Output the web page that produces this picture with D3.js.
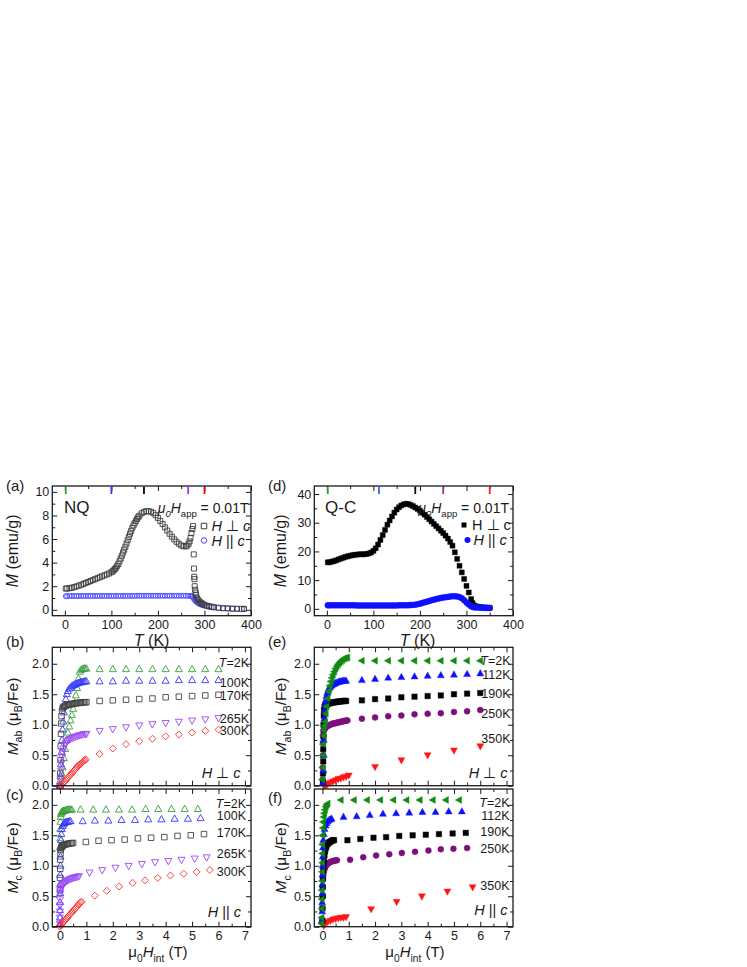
<!DOCTYPE html>
<html><head><meta charset="utf-8">
<script src="https://cdn.jsdelivr.net/npm/d3@7"></script>
<style>body{margin:0;background:#fff;} svg text{font-family:"Liberation Sans",Arial,Helvetica,sans-serif;white-space:pre;}</style>
</head><body><svg id="chart" width="747" height="967"></svg>
<script>
// ---------------- DATA ----------------
// (a) NQ, M(T) at 0.01 T
const nqPerpT = [2,5,10,15,20,25,30,35,40,45,50,55,60,65,70,75,80,85,90,95,100,102.5,105,107.5,110,112.5,115,117.5,120,122.5,125,127.5,130,132.5,135,137.5,140,142.5,145,147.5,150,152.5,155,157.5,160,165,170,175,180,185,190,195,200,205,210,215,220,225,230,235,240,245,250,255,260,263,266,268,270,272,274,275.5,277,277.5,278,278.5,279,280,281,282,283,285,287,290,293,296,300,305,310,315,320,330,340,350,360,370,380,385];
const nqPerpM = [1.80,1.81,1.83,1.87,1.92,1.98,2.05,2.12,2.20,2.28,2.36,2.44,2.52,2.60,2.68,2.76,2.84,2.92,3.00,3.08,3.18,3.26,3.35,3.46,3.58,3.73,3.90,4.12,4.35,4.60,4.85,5.10,5.35,5.62,5.90,6.18,6.45,6.70,6.95,7.16,7.35,7.53,7.70,7.85,7.98,8.18,8.30,8.36,8.37,8.32,8.20,8.02,7.80,7.54,7.27,6.99,6.72,6.45,6.20,5.97,5.77,5.60,5.46,5.39,5.38,5.45,5.6,5.8,6.1,6.5,6.85,7.1,4.7,3.5,2.8,2.6,2.0,1.7,1.45,1.25,1.05,0.9,0.8,0.68,0.58,0.5,0.42,0.35,0.3,0.26,0.22,0.17,0.14,0.12,0.1,0.09,0.08,0.08];
const nqParT = [2,5,10,15,20,25,30,35,40,45,50,55,60,65,70,75,80,85,90,95,100,105,110,115,120,125,130,135,140,145,150,155,160,165,170,175,180,185,190,195,200,205,210,215,220,225,230,235,240,245,250,255,260,265,270,272,274,276,278,280,282,285,288,292,296,300,305,310,320,330,340,350,360,370,385];
const nqParM = [1.15,1.16,1.17,1.17,1.17,1.17,1.17,1.18,1.18,1.18,1.18,1.18,1.18,1.18,1.18,1.18,1.18,1.18,1.18,1.18,1.18,1.18,1.18,1.18,1.18,1.18,1.18,1.18,1.18,1.18,1.18,1.19,1.19,1.19,1.19,1.19,1.19,1.19,1.19,1.19,1.19,1.19,1.19,1.19,1.19,1.19,1.19,1.19,1.19,1.19,1.19,1.19,1.19,1.18,1.17,1.17,1.12,1.02,0.9,0.8,0.7,0.6,0.52,0.45,0.4,0.36,0.31,0.27,0.2,0.16,0.13,0.11,0.09,0.08,0.07];
const nqMarkT = [2,100,170,265,300];
// (d) Q-C, M(T) at 0.01 T
const qcT = [2,5,10,15,20,25,30,35,40,45,50,55,60,65,70,75,80,85,90,95,100,105,110,115,120,125,130,135,140,145,150,155,160,165,170,175,180,185,190,195,200,205,210,215,220,225,230,235,240,245,250,255,260,265,270,275,280,285,290,295,300,305,310,313,316,320,325,330,335,340,345,350];
const qcPerpM = [16.2,16.2,16.4,16.6,16.9,17.2,17.5,17.8,18.1,18.3,18.5,18.7,18.8,18.9,19.0,19.0,19.0,19.1,19.3,19.6,20.2,21.1,22.4,24.0,25.7,27.5,29.3,30.8,32.2,33.5,34.6,35.4,36.0,36.4,36.6,36.5,36.2,35.8,35.3,34.8,34.2,33.5,32.8,32.0,31.2,30.4,29.6,28.8,28.0,27.2,26.4,25.5,24.5,23.3,22.0,19.7,17.4,15.0,12.7,10.4,8.0,5.7,3.4,2.0,1.2,0.9,0.7,0.6,0.5,0.45,0.4,0.35];
const qcParM = [1.2,1.2,1.2,1.2,1.2,1.2,1.2,1.2,1.2,1.2,1.2,1.2,1.2,1.15,1.15,1.15,1.15,1.15,1.15,1.15,1.15,1.15,1.15,1.15,1.15,1.15,1.15,1.15,1.15,1.15,1.15,1.2,1.2,1.2,1.2,1.25,1.3,1.35,1.45,1.6,1.8,2.0,2.25,2.5,2.75,3.0,3.2,3.4,3.6,3.75,3.9,4.05,4.15,4.25,4.35,4.38,4.3,4.1,3.7,3.0,2.2,1.5,0.9,0.7,0.55,0.5,0.45,0.4,0.36,0.33,0.3,0.28];
const qcMarkT = [2,112,190,250,350];

// (b) NQ, H perp c : M_ab vs mu0 H_int
const b2K_H = [0,0.03,0.06,0.1,0.15,0.2,0.25,0.3,0.35,0.4,0.45,0.5,0.55,0.6,0.65,0.7,0.75,0.8,0.85,0.9,0.95,1.0,1.5,2.0,2.5,3.0,3.5,4.0,4.5,5.0,5.5,6.0];
const b2K_M = [0,0.1,0.2,0.3,0.45,0.6,0.75,0.87,0.97,1.07,1.16,1.26,1.36,1.48,1.6,1.76,1.87,1.9,1.91,1.92,1.92,1.92,1.91,1.91,1.91,1.91,1.91,1.91,1.91,1.91,1.91,1.91];
const b100K_H = [0,0.02,0.04,0.06,0.08,0.1,0.12,0.15,0.18,0.22,0.26,0.3,0.35,0.4,0.45,0.5,0.55,0.6,0.65,0.7,0.75,0.8,0.85,0.9,0.95,1.0,1.5,2.0,2.5,3.0,3.5,4.0,4.5,5.0,5.5,6.0];
const b100K_M = [0,0.15,0.35,0.55,0.75,0.92,1.05,1.2,1.32,1.42,1.5,1.55,1.59,1.61,1.63,1.645,1.655,1.665,1.675,1.685,1.69,1.695,1.70,1.705,1.71,1.71,1.71,1.71,1.72,1.72,1.72,1.72,1.73,1.73,1.73,1.73];
const b170K_H = [0,0.01,0.02,0.03,0.04,0.05,0.06,0.08,0.1,0.13,0.16,0.2,0.25,0.3,0.35,0.4,0.45,0.5,0.55,0.6,0.65,0.7,0.75,0.8,0.85,0.9,0.95,1.0,1.5,2.0,2.5,3.0,3.5,4.0,4.5,5.0,5.5,6.0];
const b170K_M = [0,0.2,0.42,0.65,0.85,1.02,1.14,1.23,1.27,1.29,1.3,1.31,1.32,1.325,1.33,1.335,1.34,1.345,1.35,1.352,1.355,1.358,1.36,1.362,1.365,1.367,1.37,1.37,1.39,1.40,1.41,1.42,1.43,1.45,1.46,1.47,1.48,1.49];
const b265K_H = [0,0.02,0.04,0.06,0.08,0.1,0.13,0.17,0.22,0.27,0.33,0.4,0.47,0.54,0.61,0.68,0.75,0.82,0.89,0.96,1.0,1.5,2.0,2.5,3.0,3.5,4.0,4.5,5.0,5.5,6.0];
const b265K_M = [0,0.12,0.25,0.38,0.48,0.55,0.61,0.66,0.7,0.73,0.75,0.77,0.785,0.8,0.81,0.82,0.83,0.835,0.845,0.85,0.85,0.9,0.93,0.96,0.99,1.01,1.03,1.05,1.07,1.09,1.11];
const b300K_H = [0.03,0.06,0.1,0.14,0.18,0.22,0.26,0.3,0.34,0.38,0.42,0.46,0.5,0.54,0.58,0.62,0.66,0.7,0.74,0.78,0.82,0.86,0.9,0.94,0.98,1.5,2.0,2.5,3.0,3.5,4.0,4.5,5.0,5.5,6.0];
const b300K_M = [0,0.01,0.03,0.05,0.07,0.09,0.11,0.13,0.15,0.17,0.19,0.21,0.23,0.25,0.27,0.29,0.31,0.33,0.345,0.36,0.375,0.39,0.405,0.42,0.43,0.52,0.61,0.68,0.73,0.77,0.81,0.84,0.87,0.90,0.92];

// (c) NQ, H || c : M_c vs mu0 H_int
const c2K_H = [0,0.01,0.01,0.02,0.03,0.04,0.05,0.07,0.1,0.13,0.17,0.21,0.25,0.3,0.35,0.4,0.45,0.78,1.26,1.74,2.23,2.73,3.24,3.72,4.22,4.72,5.22];
const c2K_M = [1.3,1.45,1.6,1.72,1.8,1.85,1.87,1.88,1.89,1.9,1.9,1.91,1.91,1.92,1.92,1.92,1.92,1.92,1.92,1.92,1.92,1.92,1.93,1.93,1.93,1.93,1.93];
const c100K_H = [0,0,0,0,0.01,0.01,0.01,0.02,0.02,0.03,0.04,0.05,0.07,0.1,0.13,0.17,0.21,0.25,0.3,0.35,0.4,0.86,1.32,1.83,2.33,2.84,3.34,3.84,4.34,4.84,5.32];
const c100K_M = [0.05,0.15,0.27,0.4,0.55,0.7,0.85,1.0,1.15,1.3,1.42,1.52,1.6,1.65,1.68,1.7,1.71,1.72,1.72,1.73,1.73,1.73,1.74,1.74,1.75,1.75,1.76,1.76,1.77,1.77,1.78];
const c170K_H = [0,0,0.01,0.01,0.02,0.03,0.04,0.06,0.08,0.1,0.13,0.16,0.2,0.25,0.3,0.35,0.4,0.45,0.5,0.98,1.46,1.95,2.45,2.95,3.45,3.95,4.45,4.95,5.45];
const c170K_M = [0.6,0.8,0.95,1.1,1.2,1.26,1.29,1.31,1.32,1.33,1.34,1.345,1.35,1.355,1.36,1.365,1.37,1.37,1.375,1.39,1.41,1.42,1.43,1.45,1.46,1.47,1.49,1.5,1.52];
const c265K_H = [0,0,0,0,0,0.01,0.02,0.04,0.06,0.09,0.12,0.16,0.2,0.25,0.3,0.36,0.42,0.48,0.54,0.6,0.66,0.72,1.12,1.6,2.1,2.6,3.1,3.6,4.1,4.6,5.1,5.55];
const c265K_M = [0.05,0.15,0.25,0.35,0.45,0.55,0.6,0.63,0.66,0.68,0.7,0.72,0.735,0.75,0.765,0.78,0.79,0.8,0.81,0.815,0.82,0.83,0.89,0.93,0.97,1.0,1.03,1.06,1.08,1.1,1.12,1.14];
const c300K_H = [0,0.03,0.06,0.1,0.14,0.18,0.22,0.26,0.3,0.34,0.38,0.42,0.46,0.5,0.54,0.58,0.62,0.66,0.7,0.74,0.78,0.82,1.32,1.77,2.24,2.75,3.22,3.7,4.18,4.68,5.17,5.67];
const c300K_M = [0,0.02,0.04,0.06,0.08,0.1,0.12,0.14,0.16,0.18,0.2,0.22,0.24,0.26,0.28,0.3,0.32,0.34,0.36,0.38,0.4,0.41,0.51,0.59,0.66,0.72,0.76,0.8,0.84,0.87,0.9,0.93];

// (e) Q-C, H perp c
const e2K_H = [0,0.01,0.02,0.03,0.04,0.05,0.07,0.1,0.13,0.16,0.2,0.24,0.28,0.32,0.36,0.4,0.45,0.5,0.55,0.6,0.65,0.7,0.75,0.8,0.85,0.9,0.95,1.5,2.0,2.5,3.0,3.5,4.0,4.5,5.0,5.5,6.0];
const e2K_M = [0.1,0.3,0.5,0.68,0.82,0.92,0.98,1.05,1.18,1.3,1.43,1.55,1.64,1.71,1.77,1.82,1.87,1.92,1.96,1.99,2.02,2.04,2.06,2.08,2.09,2.1,2.1,2.05,2.05,2.05,2.05,2.05,2.05,2.05,2.05,2.05,2.05];
const e112K_H = [0.03,0.04,0.05,0.05,0.06,0.07,0.08,0.1,0.12,0.15,0.18,0.22,0.26,0.3,0.35,0.4,0.45,0.5,0.55,0.6,0.65,0.7,0.75,0.8,0.85,0.9,1.5,2.0,2.5,3.0,3.5,4.0,4.5,5.0,5.5,6.0];
const e112K_M = [0.05,0.25,0.5,0.75,0.95,1.1,1.22,1.32,1.4,1.47,1.52,1.57,1.6,1.62,1.64,1.66,1.67,1.68,1.69,1.7,1.705,1.71,1.715,1.72,1.72,1.72,1.73,1.75,1.77,1.78,1.79,1.8,1.81,1.82,1.83,1.84];
const e190K_H = [0.02,0.02,0.03,0.03,0.04,0.04,0.05,0.06,0.08,0.1,0.13,0.16,0.2,0.25,0.3,0.35,0.4,0.45,0.5,0.55,0.6,0.65,0.7,0.75,0.8,0.85,0.9,1.5,2.0,2.5,3.0,3.5,4.0,4.5,5.0,5.5,6.0];
const e190K_M = [0.05,0.2,0.4,0.6,0.8,1.0,1.15,1.24,1.29,1.31,1.32,1.33,1.34,1.35,1.355,1.36,1.365,1.37,1.37,1.375,1.38,1.38,1.385,1.385,1.39,1.39,1.39,1.40,1.42,1.43,1.45,1.46,1.47,1.48,1.5,1.51,1.52];
const e250K_H = [0.01,0.01,0.02,0.02,0.03,0.04,0.06,0.08,0.1,0.13,0.16,0.2,0.25,0.3,0.35,0.4,0.45,0.5,0.55,0.6,0.65,0.7,0.75,0.8,0.85,0.9,0.95,1.5,2.0,2.5,3.0,3.5,4.0,4.5,5.0,5.5,6.0];
const e250K_M = [0.1,0.3,0.5,0.7,0.82,0.88,0.91,0.93,0.95,0.96,0.97,0.98,0.99,1.0,1.01,1.02,1.02,1.03,1.03,1.04,1.04,1.05,1.05,1.06,1.06,1.07,1.07,1.1,1.12,1.14,1.15,1.17,1.18,1.19,1.21,1.22,1.24];
const e350K_H = [0.05,0.1,0.15,0.2,0.3,0.4,0.5,0.6,0.7,0.8,0.9,1.0,2.0,3.0,4.0,5.0,6.0];
const e350K_M = [0.0,0.01,0.02,0.03,0.05,0.07,0.09,0.11,0.12,0.14,0.15,0.17,0.31,0.42,0.5,0.58,0.65];

// (f) Q-C, H || c
const f2K_H = [-0.03,-0.03,-0.02,-0.02,-0.02,-0.01,-0.01,0,0,0,0.01,0.02,0.03,0.05,0.07,0.1,0.13,0.16,0.2,0.7,1.2,1.7,2.2,2.7,3.2,3.7,4.2,4.7,5.2];
const f2K_M = [0.05,0.15,0.3,0.45,0.6,0.75,0.9,1.05,1.2,1.35,1.5,1.62,1.72,1.8,1.86,1.92,1.97,2.0,2.02,2.08,2.08,2.08,2.08,2.08,2.08,2.08,2.08,2.08,2.08];
const f112K_H = [-0.02,-0.01,-0.01,0,0,0,0.01,0.01,0.02,0.03,0.05,0.08,0.12,0.16,0.2,0.25,0.3,0.35,0.8,1.3,1.8,2.3,2.8,3.3,3.8,4.3,4.8,5.3];
const f112K_M = [0.1,0.25,0.4,0.55,0.7,0.85,1.0,1.15,1.3,1.42,1.52,1.6,1.66,1.7,1.73,1.75,1.76,1.77,1.8,1.81,1.83,1.85,1.86,1.87,1.88,1.88,1.89,1.89];
const f190K_H = [0,0,0.01,0.01,0.02,0.03,0.04,0.06,0.08,0.1,0.13,0.16,0.2,0.24,0.28,0.32,0.36,0.4,0.44,0.95,1.44,1.94,2.42,2.92,3.43,3.93,4.43,4.95,5.45];
const f190K_M = [0.1,0.3,0.5,0.65,0.8,0.92,1.02,1.1,1.18,1.24,1.29,1.33,1.36,1.38,1.39,1.4,1.41,1.42,1.42,1.42,1.44,1.46,1.47,1.49,1.5,1.51,1.52,1.53,1.54];
const f250K_H = [0,0,0.01,0.01,0.02,0.03,0.05,0.07,0.1,0.13,0.17,0.21,0.25,0.3,0.35,0.4,0.45,0.5,0.55,1.05,1.55,2.04,2.54,3.02,3.52,4.03,4.5,4.98,5.5];
const f250K_M = [0.1,0.3,0.5,0.65,0.77,0.85,0.9,0.94,0.97,1.0,1.02,1.04,1.05,1.06,1.07,1.08,1.08,1.09,1.09,1.1,1.14,1.17,1.19,1.21,1.23,1.25,1.27,1.28,1.29];
const f350K_H = [0.05,0.1,0.2,0.3,0.4,0.5,0.6,0.7,0.8,0.9,1.85,2.82,3.78,4.75,5.71];
const f350K_M = [0.02,0.05,0.08,0.1,0.12,0.13,0.14,0.15,0.15,0.16,0.29,0.41,0.5,0.58,0.65];

// tick values
const tTicks = [0,100,200,300,400];
const tMinor = [50,150,250,350];
const nqMTicks = [0,2,4,6,8,10];
const nqMMinor = [1,3,5,7,9];
const qcMTicks = [0,10,20,30,40];
const qcMMinor = [5,15,25,35];
const hTicks = [0,1,2,3,4,5,6,7];
const hMinor = [0.5,1.5,2.5,3.5,4.5,5.5,6.5];
const mTicks = [0,0.5,1.0,1.5,2.0];
const mMinor = [0.25,0.75,1.25,1.75];
const nqLabels = ["T=2K","100K","170K","265K","300K"];
const qcLabels = ["T=2K","112K","190K","250K","350K"];

// ---------------- DRAWING ----------------
const svg = d3.select("#chart");
const INK = "#1a1a1a";

function rich(parent, x, y, parts, size, anchor, rot) {
  const t = parent.append("text").attr("font-size", size).attr("text-anchor", anchor || "start").attr("fill", INK);
  if (rot) t.attr("transform", `translate(${x},${y}) rotate(-90)`); else t.attr("x", x).attr("y", y);
  let shift = 0;
  parts.forEach(p => {
    const ts = t.append("tspan").text(p.t);
    const target = p.sub ? size * 0.3 : 0;
    if (target !== shift) { ts.attr("dy", target - shift); shift = target; }
    if (p.sub) ts.attr("font-size", size * 0.68);
    if (p.i) ts.attr("font-style", "italic");
  });
  return t;
}

function panel(o) {
  const x = d3.scaleLinear().domain(o.xd).range([o.l, o.r]);
  const y = d3.scaleLinear().domain(o.yd).range([o.b, o.t]);
  const g = svg.append("g");
  const ax = (fn, sc, vals, size, fmt, tr, pad) => {
    const a = fn(sc).tickValues(vals).tickSize(-size).tickPadding(pad || 4).tickFormat(fmt || (() => ""));
    const gg = g.append("g").attr("transform", tr).call(a);
    gg.select(".domain").remove();
    gg.selectAll("line").attr("stroke", INK).attr("stroke-width", 1);
    gg.selectAll("text").attr("font-size", 12.5).attr("fill", INK).attr("font-family", null);
    return gg;
  };
  ax(d3.axisBottom, x, o.xMajor, 5, o.xFmt, `translate(0,${o.b})`, 4);
  ax(d3.axisBottom, x, o.xMinor, 3, null, `translate(0,${o.b})`);
  ax(d3.axisTop, x, o.xMajor, 5, null, `translate(0,${o.t})`);
  ax(d3.axisTop, x, o.xMinor, 3, null, `translate(0,${o.t})`);
  ax(d3.axisLeft, y, o.yMajor, 5, o.yFmt, `translate(${o.l},0)`, 3);
  ax(d3.axisLeft, y, o.yMinor, 3, null, `translate(${o.l},0)`);
  ax(d3.axisRight, y, o.yMajor, 5, null, `translate(${o.r},0)`);
  ax(d3.axisRight, y, o.yMinor, 3, null, `translate(${o.r},0)`);
  const data = g.append("g");
  g.append("rect").attr("x", o.l).attr("y", o.t).attr("width", o.r - o.l).attr("height", o.b - o.t)
    .attr("fill", "none").attr("stroke", INK).attr("stroke-width", 1.3);
  const over = g.append("g");
  return { x, y, g, data, over, o };
}

function sym(type, s) {
  const h = s * 0.9;
  switch (type) {
    case "sq": return `M${-s/2},${-s/2}h${s}v${s}h${-s}Z`;
    case "ci": { const r = s / 2; return `M${r},0A${r},${r} 0 1,1 ${-r},0A${r},${r} 0 1,1 ${r},0Z`; }
    case "tu": return `M0,${-h*0.62}L${s/2},${h*0.38}L${-s/2},${h*0.38}Z`;
    case "td": return `M0,${h*0.62}L${s/2},${-h*0.38}L${-s/2},${-h*0.38}Z`;
    case "tl": return `M${-h*0.62},0L${h*0.38},${-s/2}L${h*0.38},${s/2}Z`;
    case "di": return `M0,${-s/2}L${s/2},0L0,${s/2}L${-s/2},0Z`;
  }
}
function series(p, X, Y, type, size, color, filled) {
  p.data.append("g").selectAll("path").data(d3.range(X.length)).join("path")
    .attr("d", sym(type, size))
    .attr("transform", i => `translate(${p.x(X[i])},${p.y(Y[i])})`)
    .attr("fill", filled ? color : "none")
    .attr("stroke", color).attr("stroke-width", filled ? 0.4 : 0.9);
}

const fmtInt = d3.format("d");
const fmt1 = d3.format(".1f");

// Panel boxes
const L1 = 52.3, R1 = 251, L2 = 314.3, R2 = 513;
const TA = 486, BA = 615.7, TB = 647.3, BB = 785.7, TC = 789, BC = 926.7;

const pa = panel({ l: L1, r: R1, t: TA, b: BA, xd: [-27, 400], yd: [-0.5, 10.5], xMajor: tTicks, xMinor: tMinor, yMajor: nqMTicks, yMinor: nqMMinor, xFmt: fmtInt, yFmt: fmtInt });
const pd = panel({ l: L2, r: R2, t: TA, b: BA, xd: [-27, 400], yd: [-2.4, 42.8], xMajor: tTicks, xMinor: tMinor, yMajor: qcMTicks, yMinor: qcMMinor, xFmt: fmtInt, yFmt: fmtInt });
const pb = panel({ l: L1, r: R1, t: TB, b: BB, xd: [-0.29, 7.23], yd: [0, 2.27], xMajor: hTicks, xMinor: hMinor, yMajor: mTicks, yMinor: mMinor, xFmt: null, yFmt: fmt1 });
const pc = panel({ l: L1, r: R1, t: TC, b: BC, xd: [-0.29, 7.23], yd: [0, 2.26], xMajor: hTicks, xMinor: hMinor, yMajor: mTicks, yMinor: mMinor, xFmt: fmtInt, yFmt: fmt1 });
const pe = panel({ l: L2, r: R2, t: TB, b: BB, xd: [-0.31, 7.245], yd: [0, 2.27], xMajor: hTicks, xMinor: hMinor, yMajor: mTicks, yMinor: mMinor, xFmt: null, yFmt: fmt1 });
const pf = panel({ l: L2, r: R2, t: TC, b: BC, xd: [-0.31, 7.245], yd: [0, 2.26], xMajor: hTicks, xMinor: hMinor, yMajor: mTicks, yMinor: mMinor, xFmt: fmtInt, yFmt: fmt1 });

// colours
const GREEN_O = "#3a9e3a", BLUE_O = "#3535ff", GRAY_O = "#454545", PURP_O = "#9a45f5", RED_O = "#ff3030";
const GREEN_F = "#118a11", BLUE_F = "#1010ff", BLACK_F = "#000000", PURP_F = "#7d0f7d", RED_F = "#ff1515";

// (a)
series(pa, nqParT, nqParM, "ci", 5, "#4545ff", false);
series(pa, nqPerpT, nqPerpM, "sq", 5, "#3c3c3c", false);
const nqMarkCol = ["#33a033", "#3333ff", "#000000", "#9933ff", "#ff0000"];
pa.over.selectAll("line.mk").data(nqMarkT).join("line").attr("class", "mk")
  .attr("x1", d => pa.x(d)).attr("x2", d => pa.x(d)).attr("y1", TA + 0.7).attr("y2", TA + 8)
  .attr("stroke", (d, i) => nqMarkCol[i]).attr("stroke-width", 1.8);
// (d)
series(pd, qcT, qcPerpM, "sq", 5, BLACK_F, true);
series(pd, qcT, qcParM, "ci", 6, BLUE_F, true);
const qcMarkCol = ["#33a033", "#3366ff", "#000000", "#993399", "#ff2222"];
pd.over.selectAll("line.mk").data(qcMarkT).join("line").attr("class", "mk")
  .attr("x1", d => pd.x(d)).attr("x2", d => pd.x(d)).attr("y1", TA + 0.7).attr("y2", TA + 8)
  .attr("stroke", (d, i) => qcMarkCol[i]).attr("stroke-width", 1.8);

// (b)
series(pb, b2K_H, b2K_M, "tu", 7, GREEN_O, false);
series(pb, b100K_H, b100K_M, "tu", 7, BLUE_O, false);
series(pb, b170K_H, b170K_M, "sq", 5.5, GRAY_O, false);
series(pb, b265K_H, b265K_M, "td", 7, PURP_O, false);
series(pb, b300K_H, b300K_M, "di", 7, RED_O, false);
// (c)
series(pc, c2K_H, c2K_M, "tu", 7, GREEN_O, false);
series(pc, c100K_H, c100K_M, "tu", 7, BLUE_O, false);
series(pc, c170K_H, c170K_M, "sq", 5.5, GRAY_O, false);
series(pc, c265K_H, c265K_M, "td", 7, PURP_O, false);
series(pc, c300K_H, c300K_M, "di", 7, RED_O, false);
// (e)
series(pe, e350K_H, e350K_M, "td", 7, RED_F, true);
series(pe, e250K_H, e250K_M, "ci", 6, PURP_F, true);
series(pe, e190K_H, e190K_M, "sq", 5.5, BLACK_F, true);
series(pe, e112K_H, e112K_M, "tu", 7, BLUE_F, true);
series(pe, e2K_H, e2K_M, "tl", 7, GREEN_F, true);
// (f)
series(pf, f350K_H, f350K_M, "td", 7, RED_F, true);
series(pf, f250K_H, f250K_M, "ci", 6, PURP_F, true);
series(pf, f190K_H, f190K_M, "sq", 5.5, BLACK_F, true);
series(pf, f112K_H, f112K_M, "tu", 7, BLUE_F, true);
series(pf, f2K_H, f2K_M, "tl", 7, GREEN_F, true);

// ---------- text ----------
const T = svg.append("g");
// panel letters
[["(a)", 6, 491], ["(b)", 6, 647], ["(c)", 6, 800], ["(d)", 268, 491], ["(e)", 268, 647], ["(f)", 268, 803]]
  .forEach(([s, x, y]) => T.append("text").attr("x", x).attr("y", y).attr("font-size", 15).attr("fill", INK).text(s));

// axis titles
rich(T, 17.5, (TA + BA) / 2, [{ t: "M", i: true }, { t: " (emu/g)" }], 16, "middle", true);
rich(T, 286, (TA + BA) / 2, [{ t: "M", i: true }, { t: " (emu/g)" }], 16, "middle", true);
rich(T, (L1 + R1) / 2, 645.5, [{ t: "T", i: true }, { t: " (K)" }], 16, "middle");
rich(T, (L2 + R2) / 2 + 4, 645.5, [{ t: "T", i: true }, { t: " (K)" }], 16, "middle");
const mab = [{ t: "M", i: true }, { t: "ab", sub: true }, { t: " (μ" }, { t: "B", sub: true }, { t: "/Fe)" }];
const mc = [{ t: "M", i: true }, { t: "c", sub: true }, { t: " (μ" }, { t: "B", sub: true }, { t: "/Fe)" }];
rich(T, 17.5, (TB + BB) / 2, mab, 15.5, "middle", true);
rich(T, 286, (TB + BB) / 2, mab, 15.5, "middle", true);
rich(T, 17.5, (TC + BC) / 2, mc, 15.5, "middle", true);
rich(T, 286, (TC + BC) / 2, mc, 15.5, "middle", true);
const hint = [{ t: "μ" }, { t: "0", sub: true }, { t: "H", i: true }, { t: "int", sub: true }, { t: " (T)" }];
rich(T, 158, 957, hint, 15, "middle");
rich(T, 415, 957, hint, 15, "middle");

// legends (a) / (d)
T.append("text").attr("x", 64).attr("y", 513).attr("font-size", 17).attr("fill", INK).text("NQ");
T.append("text").attr("x", 325).attr("y", 513).attr("font-size", 17).attr("fill", INK).text("Q-C");
const happ = [{ t: "μ", i: true }, { t: "0", sub: true, i: true }, { t: "H", i: true }, { t: "app", sub: true }, { t: " = 0.01T" }];
rich(T, 248.5, 513, happ, 14, "end");
rich(T, 509, 513, happ, 14, "end");
T.append("path").attr("d", sym("sq", 5.5)).attr("transform", "translate(204,526)").attr("fill", "none").attr("stroke", "#3c3c3c");
rich(T, 211.5, 531, [{ t: "H", i: true }, { t: " ⊥ " }, { t: "c", i: true }], 14.5, "start");
T.append("path").attr("d", sym("ci", 5.5)).attr("transform", "translate(204,540.5)").attr("fill", "none").attr("stroke", "#4545ff");
rich(T, 211.5, 545.5, [{ t: "H", i: true }, { t: " || " }, { t: "c", i: true }], 14.5, "start");
T.append("path").attr("d", sym("sq", 5)).attr("transform", "translate(464,525)").attr("fill", BLACK_F);
rich(T, 472, 530, [{ t: "H ⊥ c" }], 14.5, "start");
T.append("path").attr("d", sym("ci", 6)).attr("transform", "translate(467.5,540)").attr("fill", BLUE_F);
rich(T, 473.5, 545, [{ t: "H", i: true }, { t: " || " }, { t: "c", i: true }], 14.5, "start");

// temperature labels on field panels
function tempLabels(p, labels, vals, xr) {
  labels.forEach((s, i) => {
    const parts = s.startsWith("T=") ? [{ t: "T", i: true }, { t: s.slice(1) }] : [{ t: s }];
    rich(T, xr, p.y(vals[i]) + 4.5, parts, 12.5, "end");
  });
}
tempLabels(pb, nqLabels, [2.02, 1.70, 1.48, 1.11, 0.90], 249);
tempLabels(pc, nqLabels, [2.03, 1.82, 1.54, 1.20, 0.91], 246);
tempLabels(pe, qcLabels, [2.06, 1.83, 1.52, 1.19, 0.78], 510.5);
tempLabels(pf, qcLabels, [2.04, 1.83, 1.56, 1.28, 0.67], 509.5);
rich(T, 240.5, pb.y(0.2) + 4, [{ t: "H", i: true }, { t: " ⊥ " }, { t: "c", i: true }], 14.5, "end");
rich(T, 241, pc.y(0.23) + 4, [{ t: "H", i: true }, { t: " || " }, { t: "c", i: true }], 14.5, "end");
rich(T, 507.5, pe.y(0.2) + 4, [{ t: "H", i: true }, { t: " ⊥ " }, { t: "c", i: true }], 14.5, "end");
rich(T, 507.5, pf.y(0.26) + 4, [{ t: "H", i: true }, { t: " || " }, { t: "c", i: true }], 14.5, "end");
</script>
</body></html>
